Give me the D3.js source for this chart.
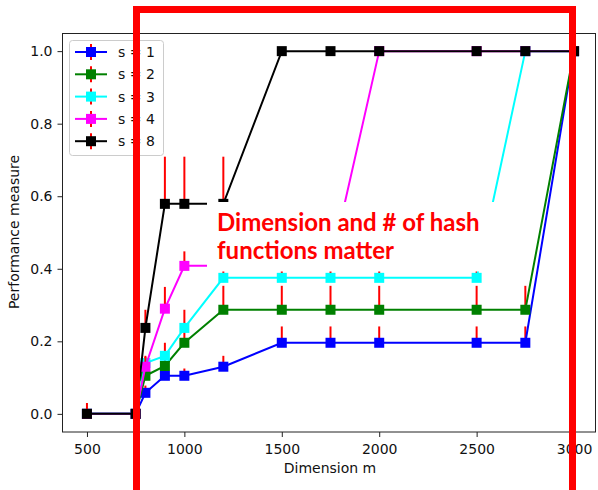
<!DOCTYPE html>
<html>
<head>
	<title>performance vs dimension</title>
	<script src="https://cdn.jsdelivr.net/npm/d3@7"></script>
</head>
<style type="text/css">
body
{
	margin: 0;
	background-color: #fff;
}
text
{
	font-family: "DejaVu Sans", sans-serif;
}
</style>
<body>
</body>
</html>
<script type="text/javascript">
	var w = 598;
	var h = 490;

	// dimension m (x values, same for every series)
	var dims = [500, 750, 800, 900, 1000, 1200, 1500, 1750, 2000, 2500, 2750, 3000];
	var xTicks = [500, 1000, 1500, 2000, 2500, 3000];
	var yTicks = [0, 0.2, 0.4, 0.6, 0.8, 1.0];

	// performance measure per number of hash functions s
	var s1 = [0, 0, 0.058, 0.105, 0.105, 0.13, 0.196, 0.196, 0.196, 0.196, 0.196, 1.0];
	var s2 = [0, 0, 0.105, 0.132, 0.196, 0.287, 0.287, 0.287, 0.287, 0.287, 0.287, 1.0];
	var s3 = [0, 0, 0.14, 0.16, 0.237, 0.375, 0.375, 0.375, 0.375, 0.375, 1.0, 1.0];
	var s4 = [0, 0, 0.13, 0.29, 0.408, 0.408, 0.408, 0.408, 1.0, 1.0, 1.0, 1.0];
	var s8 = [0, 0, 0.237, 0.579, 0.579, 0.579, 1.0, 1.0, 1.0, 1.0, 1.0, 1.0];

	// upper error (only the upper side is drawn in the figure)
	var e1 = [0, 0, 0.02, 0.02, 0.02, 0.03, 0.045, 0.045, 0.045, 0.045, 0.045, 0];
	var e2 = [0, 0, 0.02, 0.03, 0.04, 0.066, 0.066, 0.066, 0.066, 0.066, 0.066, 0];
	var e3 = [0, 0, 0.02, 0.036, 0.05, 0.04, 0.04, 0.04, 0.04, 0.04, 0, 0];
	var e4 = [0, 0, 0.027, 0.06, 0.04, 0.04, 0.04, 0.04, 0, 0, 0, 0];
	var e8 = [0.03, 0, 0.05, 0.13, 0.13, 0.13, 0, 0, 0, 0, 0, 0];

	var labels = ["s = 1", "s = 2", "s = 3", "s = 4", "s = 8"];
	var colors = ["#0000ff", "#008000", "#00ffff", "#ff00ff", "#000000"];
	var values = [s1, s2, s3, s4, s8];
	var errors = [e1, e2, e3, e4, e8];

	var note = ["Dimension and # of hash", "functions matter"];

	var svg = d3.select("body").append("svg").attr("width", w).attr("height", h);

	var x = d3.scaleLinear()
				.domain([375, 3125])
				.range([62.6, 598.4]);
	var y = d3.scaleLinear()
				.domain([-0.05, 1.05])
				.range([432, 33]);

	// axes frame
	svg.append("rect").attr("x", 62.5).attr("y", 33.5).attr("width", 533).attr("height", 398.5)
		.attr("fill", "none").attr("stroke", "#222").attr("stroke-width", 1);

	var xaxis = d3.axisBottom(x).tickValues(xTicks).tickSize(5).tickPadding(7).tickFormat(d3.format("d"));
	var gx = svg.append("g").attr("transform", "translate(0,432)").call(xaxis);
	var yaxis = d3.axisLeft(y).tickValues(yTicks).tickSize(5).tickPadding(5).tickFormat(d3.format(".1f"));
	var gy = svg.append("g").attr("transform", "translate(62.5,0)").call(yaxis);
	[gx, gy].forEach(function(g){
		g.select(".domain").remove();
		g.selectAll("text").attr("font-size", 14).attr("font-family", "DejaVu Sans").attr("fill", "#111");
		g.selectAll("line").attr("stroke", "#222");
	});

	svg.append("text").attr("x", 330).attr("y", 473).attr("text-anchor", "middle")
		.attr("font-size", 14).attr("fill", "#111").text("Dimension m");
	svg.append("text").attr("transform", "translate(19,232) rotate(-90)").attr("text-anchor", "middle")
		.attr("font-size", 14).attr("fill", "#111").text("Performance measure");

	var line = d3.line()
				.x(function(d){return x(d[0])})
				.y(function(d){return y(d[1])});

	values.forEach(function(vals, k){
		var pts = dims.map(function(d,i){return [d, vals[i], errors[k][i]]});
		var g = svg.append("g");
		g.selectAll("line.err").data(pts.filter(function(p){return p[2] > 0})).enter().append("line")
			.attr("class", "err")
			.attr("x1", function(d){return x(d[0])})
			.attr("x2", function(d){return x(d[0])})
			.attr("y1", function(d){return y(d[1])})
			.attr("y2", function(d){return y(d[1] + d[2])})
			.attr("stroke", "#ff0000").attr("stroke-width", 2);
		g.append("path").datum(pts).attr("d", line)
			.attr("fill", "none").attr("stroke", colors[k]).attr("stroke-width", 2);
		g.selectAll("rect").data(pts).enter().append("rect")
			.attr("x", function(d){return x(d[0]) - 5})
			.attr("y", function(d){return y(d[1]) - 5})
			.attr("width", 10).attr("height", 10)
			.attr("fill", colors[k]);
	});

	// legend
	var lg = svg.append("g");
	lg.append("rect").attr("x", 69.5).attr("y", 40.5).attr("width", 94).attr("height", 115).attr("rx", 3)
		.attr("fill", "#fff").attr("fill-opacity", 0.8).attr("stroke", "#ccc");
	labels.forEach(function(l, k){
		var ly = 52 + k * 22.3;
		lg.append("line").attr("x1", 75).attr("x2", 107).attr("y1", ly).attr("y2", ly)
			.attr("stroke", colors[k]).attr("stroke-width", 2);
		lg.append("line").attr("x1", 91).attr("x2", 91).attr("y1", ly - 8).attr("y2", ly + 8)
			.attr("stroke", "#ff0000").attr("stroke-width", 2);
		lg.append("rect").attr("x", 86).attr("y", ly - 5).attr("width", 10).attr("height", 10)
			.attr("fill", colors[k]);
		lg.append("text").attr("x", 118).attr("y", ly).attr("dy", "0.36em")
			.attr("font-size", 14).attr("fill", "#111").text(l);
	});

	// annotation
	svg.append("rect").attr("x", 207).attr("y", 202).attr("width", 288).attr("height", 69.5).attr("fill", "#fff");
	svg.selectAll("text.note").data(note).enter().append("text")
		.attr("class", "note")
		.attr("x", 217)
		.attr("y", function(d,i){return 231 + i * 28})
		.style("font-family", "Lato, 'Open Sans', sans-serif")
		.attr("font-weight", "bold")
		.attr("font-size", 24)
		.attr("fill", "#ff0000")
		.text(function(d){return d});

	// red highlight box
	svg.append("rect").attr("x", 136.5).attr("y", 9.5).attr("width", 436).attr("height", 490)
		.attr("fill", "none").attr("stroke", "#ff0000").attr("stroke-width", 7);
</script>
